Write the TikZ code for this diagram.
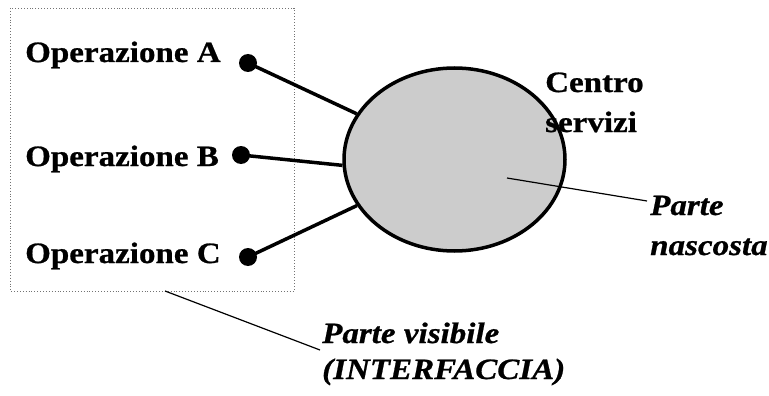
\documentclass[tikz,border=0pt]{standalone}
\usepackage{fontspec}
\setmainfont{Liberation Serif}[FakeStretch=1.12, BoldFeatures={FakeBold=0.8}, BoldItalicFeatures={FakeBold=0.8}]
\usetikzlibrary{shapes.geometric}

\begin{document}
\begin{tikzpicture}[x=1pt, y=-1pt,
		grassetto/.style={anchor=base west, inner sep=0pt, align=left, font=\fontsize{29.5}{40}\selectfont\bfseries},
		corsivo/.style={anchor=base west, inner sep=0pt, align=left, font=\fontsize{29.5}{40}\selectfont\bfseries\itshape},
		punto/.style={circle, fill=black, inner sep=0pt, minimum size=18pt},
		filo/.style={line width=3.5pt},
		richiamo/.style={line width=1.2pt}]
	%%%%% START %%%%%
	
	\useasboundingbox (0, 0) rectangle (769, 396);
	
	\draw[black!55, dotted, line width=0.9pt] (10, 8) rectangle (294, 291);
	
	\node[grassetto] (opA) at (25, 62) {Operazione A};
	\node[grassetto] (opB) at (25, 166) {Operazione B};
	\node[grassetto] (opC) at (25, 263) {Operazione C};
	
	\node[punto] (puntoA) at (248, 63) {};
	\node[punto] (puntoB) at (241, 155) {};
	\node[punto] (puntoC) at (248, 257) {};
	
	\node[ellipse, draw, line width=3.5pt, fill=black!20, inner sep=0pt, minimum width=221pt, minimum height=183pt] (centro) at (454.5, 159.5) {};
	
	\draw[filo] (puntoA.center) -- (centro);
	\draw[filo] (puntoB.center) -- (centro.183);
	\draw[filo] (puntoC.center) -- (centro);
	
	% base of a two-line node = last line
	\node[grassetto] (servizi) at (545, 132) {Centro\\servizi};
	
	\coordinate (interno) at (507, 178);
	\coordinate (fineN) at (647, 201);
	\draw[richiamo] (interno) -- (fineN);
	\node[corsivo] (nascosta) at (650, 255) {Parte\\nascosta};
	
	\coordinate (bordo) at (165, 291);
	\coordinate (fineV) at (320, 350);
	\draw[richiamo] (bordo) -- (fineV);
	\node[corsivo, font=\fontsize{29.5}{36}\selectfont\bfseries\itshape] (visibile) at (322, 379) {Parte visibile\\(INTERFACCIA)};
	
	%%%%% END %%%%%
\end{tikzpicture}
\end{document}
